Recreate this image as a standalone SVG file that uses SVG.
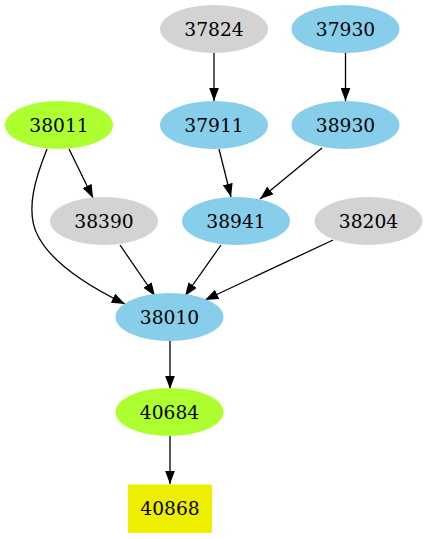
<svg xmlns="http://www.w3.org/2000/svg" width="427" height="539" viewBox="0 0 427 539">
<defs>
<marker id="ah" viewBox="0 0 13.3 10" refX="13.3" refY="5" markerWidth="13.3" markerHeight="10" markerUnits="userSpaceOnUse" orient="auto">
<path d="M0,0 L13.3,5 L0,10 z" fill="#000"/>
</marker>
</defs>
<style>
text{font-family:"DejaVu Serif","Liberation Serif",serif;font-size:18.67px;text-anchor:middle;fill:#000}
.gray{fill:#d3d3d3}
.blue{fill:#87ceeb}
.green{fill:#adff2f}
.yel{fill:#eeee00}
#edges path{fill:none;stroke:#000;stroke-width:1.3;marker-end:url(#ah)}
</style>
<rect width="427" height="539" fill="#fff"/>
<g id="edges">
<path d="M214,53 L214,101"/>
<path d="M345.5,53 L345.5,101"/>
<path d="M69,149 L93,198"/>
<path d="M47,149 C37,174 24,210 38,236 C52,263 88,286 125,304"/>
<path d="M219,149 L231,197"/>
<path d="M322,148 L260,199"/>
<path d="M120,245 L155,296"/>
<path d="M221,245 L185,296"/>
<path d="M333,240 L205,300"/>
<path d="M170,341 L170,389"/>
<path d="M170,436 L170,484"/>
</g>
<g id="n37824"><ellipse class="gray" cx="214" cy="29" rx="54" ry="24"/><text x="214" y="35.5">37824</text></g>
<g id="n37930"><ellipse class="blue" cx="345.5" cy="29" rx="54" ry="24"/><text x="345.5" y="35.5">37930</text></g>
<g id="n38011"><ellipse class="green" cx="59" cy="125" rx="54" ry="24"/><text x="59" y="131.5">38011</text></g>
<g id="n37911"><ellipse class="blue" cx="214" cy="125" rx="54" ry="24"/><text x="214" y="131.5">37911</text></g>
<g id="n38930"><ellipse class="blue" cx="345.5" cy="125" rx="54" ry="24"/><text x="345.5" y="131.5">38930</text></g>
<g id="n38390"><ellipse class="gray" cx="104" cy="221" rx="54" ry="24"/><text x="104" y="227.5">38390</text></g>
<g id="n38941"><ellipse class="blue" cx="236" cy="221" rx="54" ry="24"/><text x="236" y="227.5">38941</text></g>
<g id="n38204"><ellipse class="gray" cx="368.5" cy="221" rx="54" ry="24"/><text x="368.5" y="227.5">38204</text></g>
<g id="n38010"><ellipse class="blue" cx="169.5" cy="317" rx="54" ry="24"/><text x="169.5" y="323.5">38010</text></g>
<g id="n40684"><ellipse class="green" cx="169.5" cy="412" rx="54" ry="24"/><text x="169.5" y="418.5">40684</text></g>
<g id="n40868"><rect class="yel" x="128" y="484.5" width="84" height="48.5"/><text x="170" y="515">40868</text></g>
</svg>
